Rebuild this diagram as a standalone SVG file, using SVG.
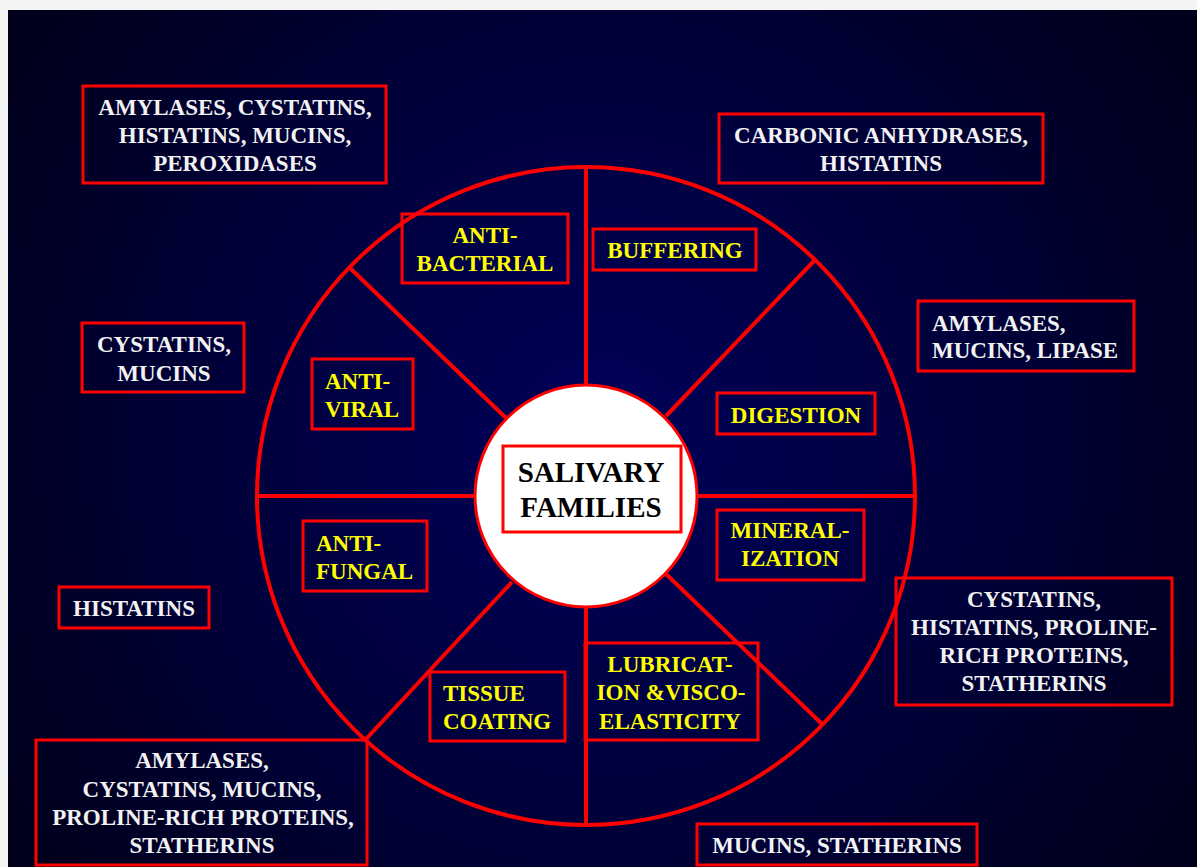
<svg xmlns="http://www.w3.org/2000/svg" width="1197" height="867" viewBox="0 0 1197 867">
  <defs>
    <radialGradient id="bg" cx="600" cy="440" r="700" gradientUnits="userSpaceOnUse">
      <stop offset="0" stop-color="#00005a"/>
      <stop offset="0.45" stop-color="#000040"/>
      <stop offset="1" stop-color="#00001c"/>
    </radialGradient>
    <style>
      .box { fill: none; stroke: #ff0000; stroke-width: 3; }
      .spoke { fill: none; stroke: #ff0000; stroke-width: 4; }
      text { font-family: "Liberation Serif", "Times New Roman", serif; font-weight: bold; font-size: 23px; }
      .w { fill: #f2f2f2; text-anchor: middle; }
      .wl { fill: #f2f2f2; text-anchor: start; }
      .y { fill: #ffff00; text-anchor: middle; }
      .yl { fill: #ffff00; text-anchor: start; }
      .k { fill: #000000; text-anchor: middle; font-size: 29px; }
    </style>
  </defs>

  <!-- page margin and slide background -->
  <rect x="0" y="0" width="1197" height="867" fill="#f4f4f4"/>
  <rect x="8" y="10" width="1189" height="857" fill="url(#bg)"/>

  <!-- wheel: rim and spokes -->
  <g id="connectors">
    <circle cx="586" cy="496" r="329" class="spoke"/>
    <line x1="586" y1="167" x2="586" y2="385" class="spoke"/>
    <line x1="586" y1="607" x2="586" y2="825" class="spoke"/>
    <line x1="259" y1="496" x2="475" y2="496" class="spoke"/>
    <line x1="697" y1="496" x2="913" y2="496" class="spoke"/>
    <line x1="350" y1="268" x2="506" y2="418" class="spoke"/>
    <line x1="814" y1="261" x2="666" y2="416" class="spoke"/>
    <line x1="366" y1="739" x2="512" y2="582" class="spoke"/>
    <line x1="822" y1="724" x2="666" y2="574" class="spoke"/>
  </g>

  <!-- hub -->
  <g id="hub">
    <circle cx="586" cy="496" r="111" fill="#ffffff" stroke="#ff0000" stroke-width="3"/>
    <rect x="503" y="446" width="178" height="86" class="box"/>
    <text class="k" x="591" y="482">SALIVARY</text>
    <text class="k" x="591" y="517">FAMILIES</text>
  </g>

  <!-- function labels inside the wheel -->
  <g id="anti-bacterial">
    <rect x="402" y="214" width="166" height="69" class="box"/>
    <text class="y" x="485" y="243">ANTI-</text>
    <text class="y" x="485" y="271">BACTERIAL</text>
  </g>
  <g id="buffering">
    <rect x="593" y="229" width="163" height="41" class="box"/>
    <text class="y" x="675" y="258">BUFFERING</text>
  </g>
  <g id="anti-viral">
    <rect x="312" y="359" width="101" height="70" class="box"/>
    <text class="yl" x="325" y="389">ANTI-</text>
    <text class="yl" x="325" y="417">VIRAL</text>
  </g>
  <g id="digestion">
    <rect x="717" y="393" width="158" height="41" class="box"/>
    <text class="y" x="796" y="423">DIGESTION</text>
  </g>
  <g id="mineralization">
    <rect x="717" y="510" width="147" height="70" class="box"/>
    <text class="y" x="790" y="538">MINERAL-</text>
    <text class="y" x="790" y="566">IZATION</text>
  </g>
  <g id="anti-fungal">
    <rect x="303" y="521" width="124" height="70" class="box"/>
    <text class="yl" x="316" y="551">ANTI-</text>
    <text class="yl" x="316" y="579">FUNGAL</text>
  </g>
  <g id="tissue-coating">
    <rect x="430" y="672" width="135" height="69" class="box"/>
    <text class="yl" x="443" y="701">TISSUE</text>
    <text class="yl" x="443" y="729">COATING</text>
  </g>
  <g id="lubrication">
    <rect x="585" y="643" width="173" height="97" class="box"/>
    <text class="y" x="670" y="672">LUBRICAT-</text>
    <text class="y" x="671" y="700">ION &amp;VISCO-</text>
    <text class="y" x="670" y="729">ELASTICITY</text>
  </g>

  <!-- protein families around the wheel -->
  <g id="antibacterial-proteins">
    <rect x="83" y="86" width="303" height="97" class="box"/>
    <text class="w" x="235" y="115">AMYLASES, CYSTATINS,</text>
    <text class="w" x="235" y="143">HISTATINS, MUCINS,</text>
    <text class="w" x="235" y="171">PEROXIDASES</text>
  </g>
  <g id="buffering-proteins">
    <rect x="719" y="114" width="324" height="69" class="box"/>
    <text class="w" x="881" y="143">CARBONIC ANHYDRASES,</text>
    <text class="w" x="881" y="171">HISTATINS</text>
  </g>
  <g id="digestion-proteins">
    <rect x="918" y="301" width="216" height="70" class="box"/>
    <text class="wl" x="932" y="331">AMYLASES,</text>
    <text class="wl" x="932" y="358">MUCINS, LIPASE</text>
  </g>
  <g id="antiviral-proteins">
    <rect x="82" y="323" width="162" height="69" class="box"/>
    <text class="w" x="164" y="352">CYSTATINS,</text>
    <text class="w" x="164" y="381">MUCINS</text>
  </g>
  <g id="antifungal-proteins">
    <rect x="59" y="587" width="150" height="41" class="box"/>
    <text class="w" x="134" y="616">HISTATINS</text>
  </g>
  <g id="mineralization-proteins">
    <rect x="896" y="578" width="276" height="127" class="box"/>
    <text class="w" x="1034" y="607">CYSTATINS,</text>
    <text class="w" x="1034" y="635">HISTATINS, PROLINE-</text>
    <text class="w" x="1034" y="663">RICH PROTEINS,</text>
    <text class="w" x="1034" y="691">STATHERINS</text>
  </g>
  <g id="coating-proteins">
    <rect x="36" y="740" width="331" height="125" class="box"/>
    <text class="w" x="202" y="768">AMYLASES,</text>
    <text class="w" x="202" y="797">CYSTATINS, MUCINS,</text>
    <text class="w" x="203" y="825">PROLINE-RICH PROTEINS,</text>
    <text class="w" x="202" y="853">STATHERINS</text>
  </g>
  <g id="lubrication-proteins">
    <rect x="697" y="824" width="280" height="41" class="box"/>
    <text class="w" x="837" y="853">MUCINS, STATHERINS</text>
  </g>
</svg>
